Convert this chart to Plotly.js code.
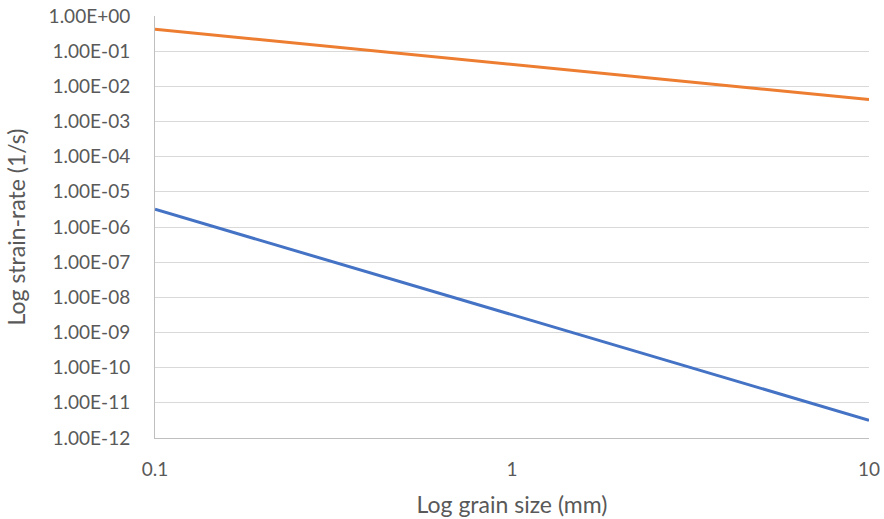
<!DOCTYPE html>
<html>
<head>
<meta charset="utf-8">
<script src="https://cdn.plot.ly/plotly-3.0.1.min.js"></script>
<style>
  html, body { margin: 0; padding: 0; background: #ffffff; }
  #chart { width: 884px; height: 519px; }
</style>
</head>
<body>
<div id="chart"></div>
<script>
// Grain size (mm) and strain-rate (1/s) for the two creep mechanisms
const grainSize = [0.1, 0.2, 0.5, 1, 2, 5, 10];
const rateOrange = [0.42, 0.21, 0.084, 0.042, 0.021, 0.0084, 0.0042];
const rateBlue = [3.2e-6, 4.0e-7, 2.56e-8, 3.2e-9, 4.0e-10, 2.56e-11, 3.2e-12];

const yTickVals = [1, 1e-1, 1e-2, 1e-3, 1e-4, 1e-5, 1e-6, 1e-7, 1e-8, 1e-9, 1e-10, 1e-11, 1e-12];
const yTickText = ["1.00E+00", "1.00E-01", "1.00E-02", "1.00E-03", "1.00E-04", "1.00E-05",
  "1.00E-06", "1.00E-07", "1.00E-08", "1.00E-09", "1.00E-10", "1.00E-11", "1.00E-12"];
const xTickVals = [0.1, 1, 10];
const xTickText = ["0.1", "1", "10"];

const fontFamily = "Lato, 'Open Sans', sans-serif";
const textColor = "#595959";

const traces = [
  {
    x: grainSize, y: rateBlue, type: "scatter", mode: "lines",
    line: { color: "#4472C4", width: 3 }, hoverinfo: "x+y"
  },
  {
    x: grainSize, y: rateOrange, type: "scatter", mode: "lines",
    line: { color: "#ED7D31", width: 3 }, hoverinfo: "x+y"
  }
];

const layout = {
  width: 884, height: 519,
  margin: { l: 155, r: 15, t: 16, b: 81 },
  paper_bgcolor: "#ffffff", plot_bgcolor: "#ffffff",
  showlegend: false,
  font: { family: fontFamily, color: textColor, size: 19 },
  xaxis: {
    type: "log", range: [-1, 1],
    tickvals: xTickVals, ticktext: xTickText,
    showgrid: false, zeroline: false,
    showline: true, linecolor: "#bfbfbf", linewidth: 1,
    ticks: "", ticklabelstandoff: 14,
    tickfont: { family: fontFamily, size: 19, color: textColor },
    title: { text: "Log grain size (mm)", standoff: 18,
      font: { family: fontFamily, size: 23, color: textColor } }
  },
  yaxis: {
    type: "log", range: [-12, 0],
    tickvals: yTickVals, ticktext: yTickText,
    showgrid: true, gridcolor: "#d9d9d9", gridwidth: 1,
    zeroline: false,
    showline: true, linecolor: "#bfbfbf", linewidth: 1,
    ticks: "", ticklabelstandoff: 20,
    tickfont: { family: fontFamily, size: 19, color: textColor },
    title: { text: "Log strain-rate (1/s)", standoff: 16,
      font: { family: fontFamily, size: 23, color: textColor } }
  }
};

Plotly.newPlot("chart", traces, layout, { displayModeBar: false, staticPlot: true });
</script>
</body>
</html>
